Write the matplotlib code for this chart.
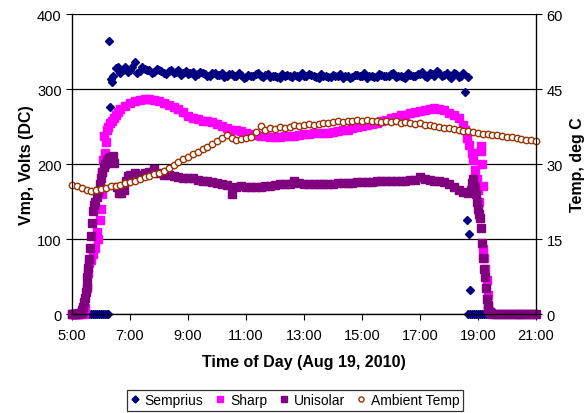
import numpy as np
import matplotlib
matplotlib.use('Agg')
import matplotlib.pyplot as plt

plt.rcParams['font.family'] = ['Liberation Sans', 'DejaVu Sans']

# --- data (hours of day, volts / deg C) ---
# regular 10-min logger readings: (start hour, values)
semp_start = 6 + 20/60
semp_vals = [313, 328, 322, 330, 326, 336, 324, 327, 325, 323, 326, 322, 324, 321, 325, 322,
             320, 323, 320, 322, 318, 321, 319, 322, 318, 320, 317, 319, 316, 318, 320, 317,
             319, 316, 318, 315, 318, 317, 319, 316, 318, 320, 317, 315, 318, 316, 319, 317,
             315, 318, 316, 319, 317, 315, 318, 316, 319, 317, 320, 316, 318, 315, 319, 317,
             320, 318, 321, 317, 322, 319, 318, 321, 316, 322]
# second channel of the same unit, offset by 5 min
semp_start2 = 6 + 25/60
semp_vals2 = [318, 330, 325, 323, 329, 322, 330, 326, 321, 327, 324, 320, 326, 323, 319, 324,
              321, 318, 323, 320, 317, 322, 319, 316, 320, 318, 321, 315, 319, 317, 322, 316,
              320, 318, 316, 320, 319, 316, 318, 321, 317, 319, 316, 320, 318, 316, 317, 320,
              318, 315, 319, 317, 321, 318, 316, 320, 318, 317, 321, 318, 316, 322, 318, 320,
              323, 316, 320, 324, 318, 322, 315, 320, 318]
# odd single readings (sunrise / sunset)
semp_extra_t = [6.29, 6.31, 6.37, 18.55, 18.61, 18.66, 18.69, 18.72]
semp_extra_v = [364, 276, 309, 296, 125, 316, 107, 32]
semp_zero_t = [5.00, 5.07, 5.13, 5.20, 5.27, 5.33, 5.40, 5.47, 5.53, 5.60, 5.67, 5.73, 5.80,
               5.87, 5.93, 6.00, 6.07, 6.13, 6.20, 6.24,
               18.66, 18.73, 18.80, 18.87, 18.93, 19.00, 19.07, 19.13, 19.20, 19.27, 19.33, 19.40]

sharp_start = 6 + 40/60
sharp_vals = [273, 278, 282, 284, 286, 287, 287, 286, 284, 282, 279, 276, 273, 269, 264, 262,
              260, 258, 257, 256, 254, 251, 248, 246, 245, 244, 242, 240, 239, 238, 237, 236,
              236, 236, 237, 238, 238, 239, 240, 240, 241, 241, 242, 242, 243, 244, 245, 246,
              248, 249, 251, 252, 254, 255, 257, 259, 261, 263, 265, 266, 268, 269, 271, 272,
              274, 275, 274, 272, 268, 265, 261, 252]
sharp_extra_t = [5.00, 5.10, 5.20, 5.30, 5.40, 5.45, 5.50, 5.55, 5.60, 5.65, 5.72, 5.80, 5.85,
                 5.90, 5.95, 6.00, 6.03, 6.05, 6.08, 6.10, 6.13, 6.17, 6.20, 6.25, 6.30, 6.37,
                 6.45, 6.53, 6.60,
                 18.55, 18.62, 18.70, 18.78, 18.84, 18.90, 18.95, 19.00, 19.05, 19.12, 19.12,
                 19.13, 19.17, 19.18, 19.20, 19.25, 19.30, 19.33, 19.36, 19.40]
sharp_extra_v = [0, 0, 0, 0, 0, 8, 35, 55, 68, 72, 80, 88, 110,
                 100, 125, 140, 160, 190, 205, 238, 215, 230, 245, 250, 255, 258,
                 262, 266, 270,
                 245, 235, 225, 215, 205, 192, 180, 165, 150, 224, 218,
                 200, 171, 87, 75, 60, 45, 25, 10, 3]

uni_start = 7.0
uni_vals = [186, 188, 186, 188, 190, 193, 188, 186, 185, 184, 183, 182, 182, 181, 179, 178,
            177, 176, 175, 174, 172, 160, 170, 171, 170, 169, 170, 170, 171, 171, 172, 173,
            173, 174, 178, 175, 174, 174, 174, 174, 173, 174, 174, 175, 175, 175, 175, 176,
            176, 176, 176, 177, 177, 177, 177, 178, 178, 178, 179, 179, 183, 180, 179, 178,
            177, 176, 173, 169, 166, 163, 162]
uni_extra_t = [5.00, 5.05, 5.10, 5.15, 5.20, 5.25, 5.30, 5.33, 5.36, 5.39, 5.42, 5.45, 5.48,
               5.50, 5.53, 5.56, 5.60, 5.63, 5.66, 5.70, 5.73, 5.76, 5.80, 5.85, 5.90, 5.95,
               6.00, 6.05, 6.10, 6.15, 6.20, 6.27, 6.35, 6.42, 6.45, 6.55, 6.62, 6.70, 6.78,
               6.85, 6.92,
               18.75, 18.80, 18.84, 18.88, 18.92, 18.95, 19.00, 19.05, 19.08, 19.12, 19.15,
               19.18, 19.21, 19.24, 19.27, 19.30, 19.33, 19.36, 19.40, 19.45, 19.50, 19.60,
               19.70, 19.80, 19.90, 20.00, 20.10, 20.20, 20.30, 20.40, 20.50, 20.60, 20.70,
               20.80, 20.90, 21.00]
uni_extra_v = [0, 0, 0, 0, 0, 1, 1, 2, 5, 10, 16, 22, 30,
               38, 50, 62, 74, 88, 104, 122, 138, 146, 150, 156, 164, 174,
               182, 190, 196, 200, 205, 208, 210, 211, 201, 170, 162, 162, 165,
               178, 184,
               165, 175, 180, 170, 160, 149, 140, 133, 128, 115, 95,
               75, 60, 50, 35, 20, 12, 6, 3, 1, 0, 0,
               0, 0, 0, 0, 0, 0, 0, 0, 0, 0, 0,
               0, 0, 0]

temp_start = 5.0
temp_vals = [25.9, 25.6, 25.2, 24.9, 24.7, 24.8, 25.0, 25.3, 25.6, 25.7, 25.9, 26.2, 26.4,
             26.7, 27.0, 27.4, 27.6, 28.0, 28.3, 28.7, 29.2, 29.8, 30.4, 31.0, 31.5, 32.1,
             32.5, 33.0, 33.5, 34.0, 34.6, 35.3, 35.9, 35.3, 34.9, 35.1, 35.3, 35.4, 36.4,
             37.6, 36.9, 37.3, 37.0, 37.4, 37.2, 37.5, 37.8, 37.6, 37.9, 38.0, 37.8, 38.1,
             38.3, 38.2, 38.4, 38.6, 38.5, 38.7, 38.6, 38.9, 38.7, 38.8, 38.6, 38.7, 38.5,
             38.7, 38.4, 38.6, 38.3, 38.5, 38.2, 38.0, 38.2, 37.9, 37.8, 37.6, 37.5, 37.3,
             37.2, 37.0, 36.9, 36.7, 36.6, 36.5, 36.2, 36.1, 36.0, 35.9, 35.8, 35.7, 35.5,
             35.4, 35.2, 35.1, 34.9, 34.8, 34.6]

hour_ticks = [5, 7, 9, 11, 13, 15, 17, 19, 21]
hour_labels = ['5:00', '7:00', '9:00', '11:00', '13:00', '15:00', '17:00', '19:00', '21:00']


def tenmin(start, vals):
    return start + np.arange(len(vals)) / 6.0


fig = plt.figure(figsize=(5.87, 4.14), dpi=100)
ax = fig.add_axes([0.1227, 0.239, 0.7904, 0.7247])

navy = '#000080'
pink = '#FF00FF'
purple = '#800080'
brick = '#993300'

# Semprius
st = np.concatenate([semp_zero_t, semp_extra_t, tenmin(semp_start, semp_vals),
                     tenmin(semp_start2, semp_vals2)])
sv = np.concatenate([np.zeros(len(semp_zero_t)), semp_extra_v, semp_vals, semp_vals2])
ax.plot(st, sv, ls='none', marker='D', ms=4.4, color=navy, mec=navy, label='Semprius', clip_on=False)
# Sharp
sht = np.concatenate([sharp_extra_t, tenmin(sharp_start, sharp_vals)])
shv = np.concatenate([sharp_extra_v, sharp_vals])
ax.plot(sht, shv, ls='none', marker='s', ms=5.2, color=pink, mec=pink, label='Sharp', clip_on=False)
# Unisolar
ut = np.concatenate([uni_extra_t, tenmin(uni_start, uni_vals)])
uv = np.concatenate([uni_extra_v, uni_vals])
ax.plot(ut, uv, ls='none', marker='s', ms=5.2, color=purple, mec=purple, label='Unisolar', clip_on=False)

ax.set_xlim(5, 21)
ax.set_ylim(0, 400)
ax.set_yticks([0, 100, 200, 300, 400])
ax.set_xticks(hour_ticks)
ax.set_xticklabels(hour_labels)
ax.grid(axis='y', color='black', lw=0.9)
ax.set_axisbelow(True)
ax.tick_params(direction='out', length=4, width=0.8, labelsize=10.5, colors='black')
ax.tick_params(axis='x', pad=6)
for s in ['left', 'bottom', 'right']:
    ax.spines[s].set_linewidth(0.9)
ax.spines['top'].set_visible(False)
ax.set_xlabel('Time of Day (Aug 19, 2010)', fontsize=11.5, fontweight='bold', labelpad=9)
ax.set_ylabel('Vmp, Volts (DC)', fontsize=11.5, fontweight='bold', va='center')
ax.yaxis.set_label_coords(-0.099, 0.5)

ax2 = ax.twinx()
tt = tenmin(temp_start, temp_vals)
ax2.plot(tt, temp_vals, ls='none', marker='o', ms=4.6, mfc='white', mec=brick, mew=1.0,
         label='Ambient Temp', clip_on=False)
ax2.set_ylim(0, 60)
ax2.set_yticks([0, 15, 30, 45, 60])
ax2.tick_params(direction='out', length=4, width=0.8, labelsize=10.5)
ax2.spines['top'].set_visible(False)
ax2.set_ylabel('Temp, deg C', fontsize=11.5, fontweight='bold', va='center')
ax2.yaxis.set_label_coords(1.0905, 0.5)

h1, l1 = ax.get_legend_handles_labels()
h2, l2 = ax2.get_legend_handles_labels()
leg = fig.legend(h1 + h2, l1 + l2, loc='center', bbox_to_anchor=(0.503, 0.031), ncol=4,
                 fontsize=10, frameon=True, fancybox=False, edgecolor='black',
                 handlelength=0.6, handletextpad=0.4, columnspacing=0.9,
                 borderpad=0.25, markerscale=0.8)
leg.get_frame().set_linewidth(0.9)

fig.savefig('out.png', dpi=100)
